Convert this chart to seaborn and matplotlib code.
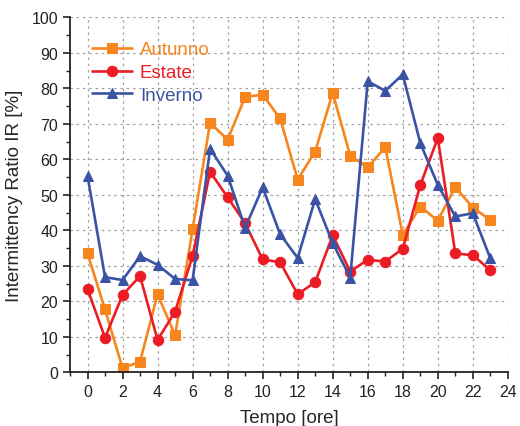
import matplotlib
matplotlib.use("Agg")
import matplotlib.pyplot as plt
from matplotlib.ticker import MultipleLocator
import seaborn as sns
import pandas as pd

hours = list(range(24))
autunno = [33.5, 17.7, 1.2, 3.0, 22.0, 10.4, 40.3, 70.3, 65.5, 77.6, 78.2, 71.5,
           54.3, 62.2, 78.7, 61.0, 57.7, 63.4, 38.7, 46.7, 42.7, 52.2, 46.4, 42.9]
estate = [23.5, 9.7, 21.8, 27.1, 9.1, 17.1, 32.8, 56.5, 49.3, 42.0, 31.8, 31.0,
          22.0, 25.4, 38.6, 28.4, 31.7, 31.2, 34.8, 52.7, 66.0, 33.5, 33.0, 28.8]
inverno = [55.4, 26.8, 26.0, 32.7, 30.3, 26.3, 25.9, 63.0, 55.4, 40.7, 52.1, 38.9,
           32.2, 48.8, 36.4, 26.7, 82.0, 79.3, 83.9, 64.6, 52.8, 43.9, 44.8, 32.1]

series_names = ["Autunno", "Estate", "Inverno"]
series_values = [autunno, estate, inverno]
colors = {"Autunno": "#F7861E", "Estate": "#EC1C24", "Inverno": "#3A53A4"}
markers = {"Autunno": "s", "Estate": "o", "Inverno": "^"}

df = pd.concat(
    [pd.DataFrame({"Tempo": hours, "IR": vals, "Stagione": name})
     for name, vals in zip(series_names, series_values)],
    ignore_index=True,
)

sns.set_style("ticks")
plt.rcParams["font.family"] = ["Liberation Sans", "DejaVu Sans"]

fig = plt.figure(figsize=(5.2, 4.27), dpi=100)
ax = fig.add_axes([0.1346, 0.1257, 0.842, 0.8314])

for name in series_names:
    sub = df[df["Stagione"] == name]
    sns.lineplot(data=sub, x="Tempo", y="IR", ax=ax, color=colors[name],
                 marker=markers[name], markersize=7.5, markeredgecolor=colors[name],
                 linewidth=1.9, label=name)

ax.set_xlim(-1, 24)
ax.set_ylim(0, 100)
ax.xaxis.set_major_locator(MultipleLocator(2))
ax.xaxis.set_minor_locator(MultipleLocator(1))
ax.yaxis.set_major_locator(MultipleLocator(10))
ax.yaxis.set_minor_locator(MultipleLocator(5))
ax.grid(True, which="major", linestyle=(0, (2, 3)), color="#a0a0a0", linewidth=0.9)
ax.tick_params(which="major", direction="out", length=5, width=1.2, labelsize=11.5, colors="#222222")
ax.tick_params(which="minor", direction="out", length=3, width=1.0, colors="#222222")
for side in ["top", "right"]:
    ax.spines[side].set_visible(False)
for side in ["left", "bottom"]:
    ax.spines[side].set_linewidth(1.3)
    ax.spines[side].set_color("#222222")

ax.set_xlabel("Tempo [ore]", fontsize=13.5, labelpad=7)
ax.set_ylabel("Intermittency Ratio IR [%]", fontsize=13.5, labelpad=6)

leg = ax.legend(loc="upper left", bbox_to_anchor=(0.012, 0.98), frameon=False,
                fontsize=13.5, handlelength=2.15, handletextpad=0.4, labelspacing=0.3)
for text, name in zip(leg.get_texts(), series_names):
    text.set_color(colors[name])

fig.savefig("out.png", dpi=100)
